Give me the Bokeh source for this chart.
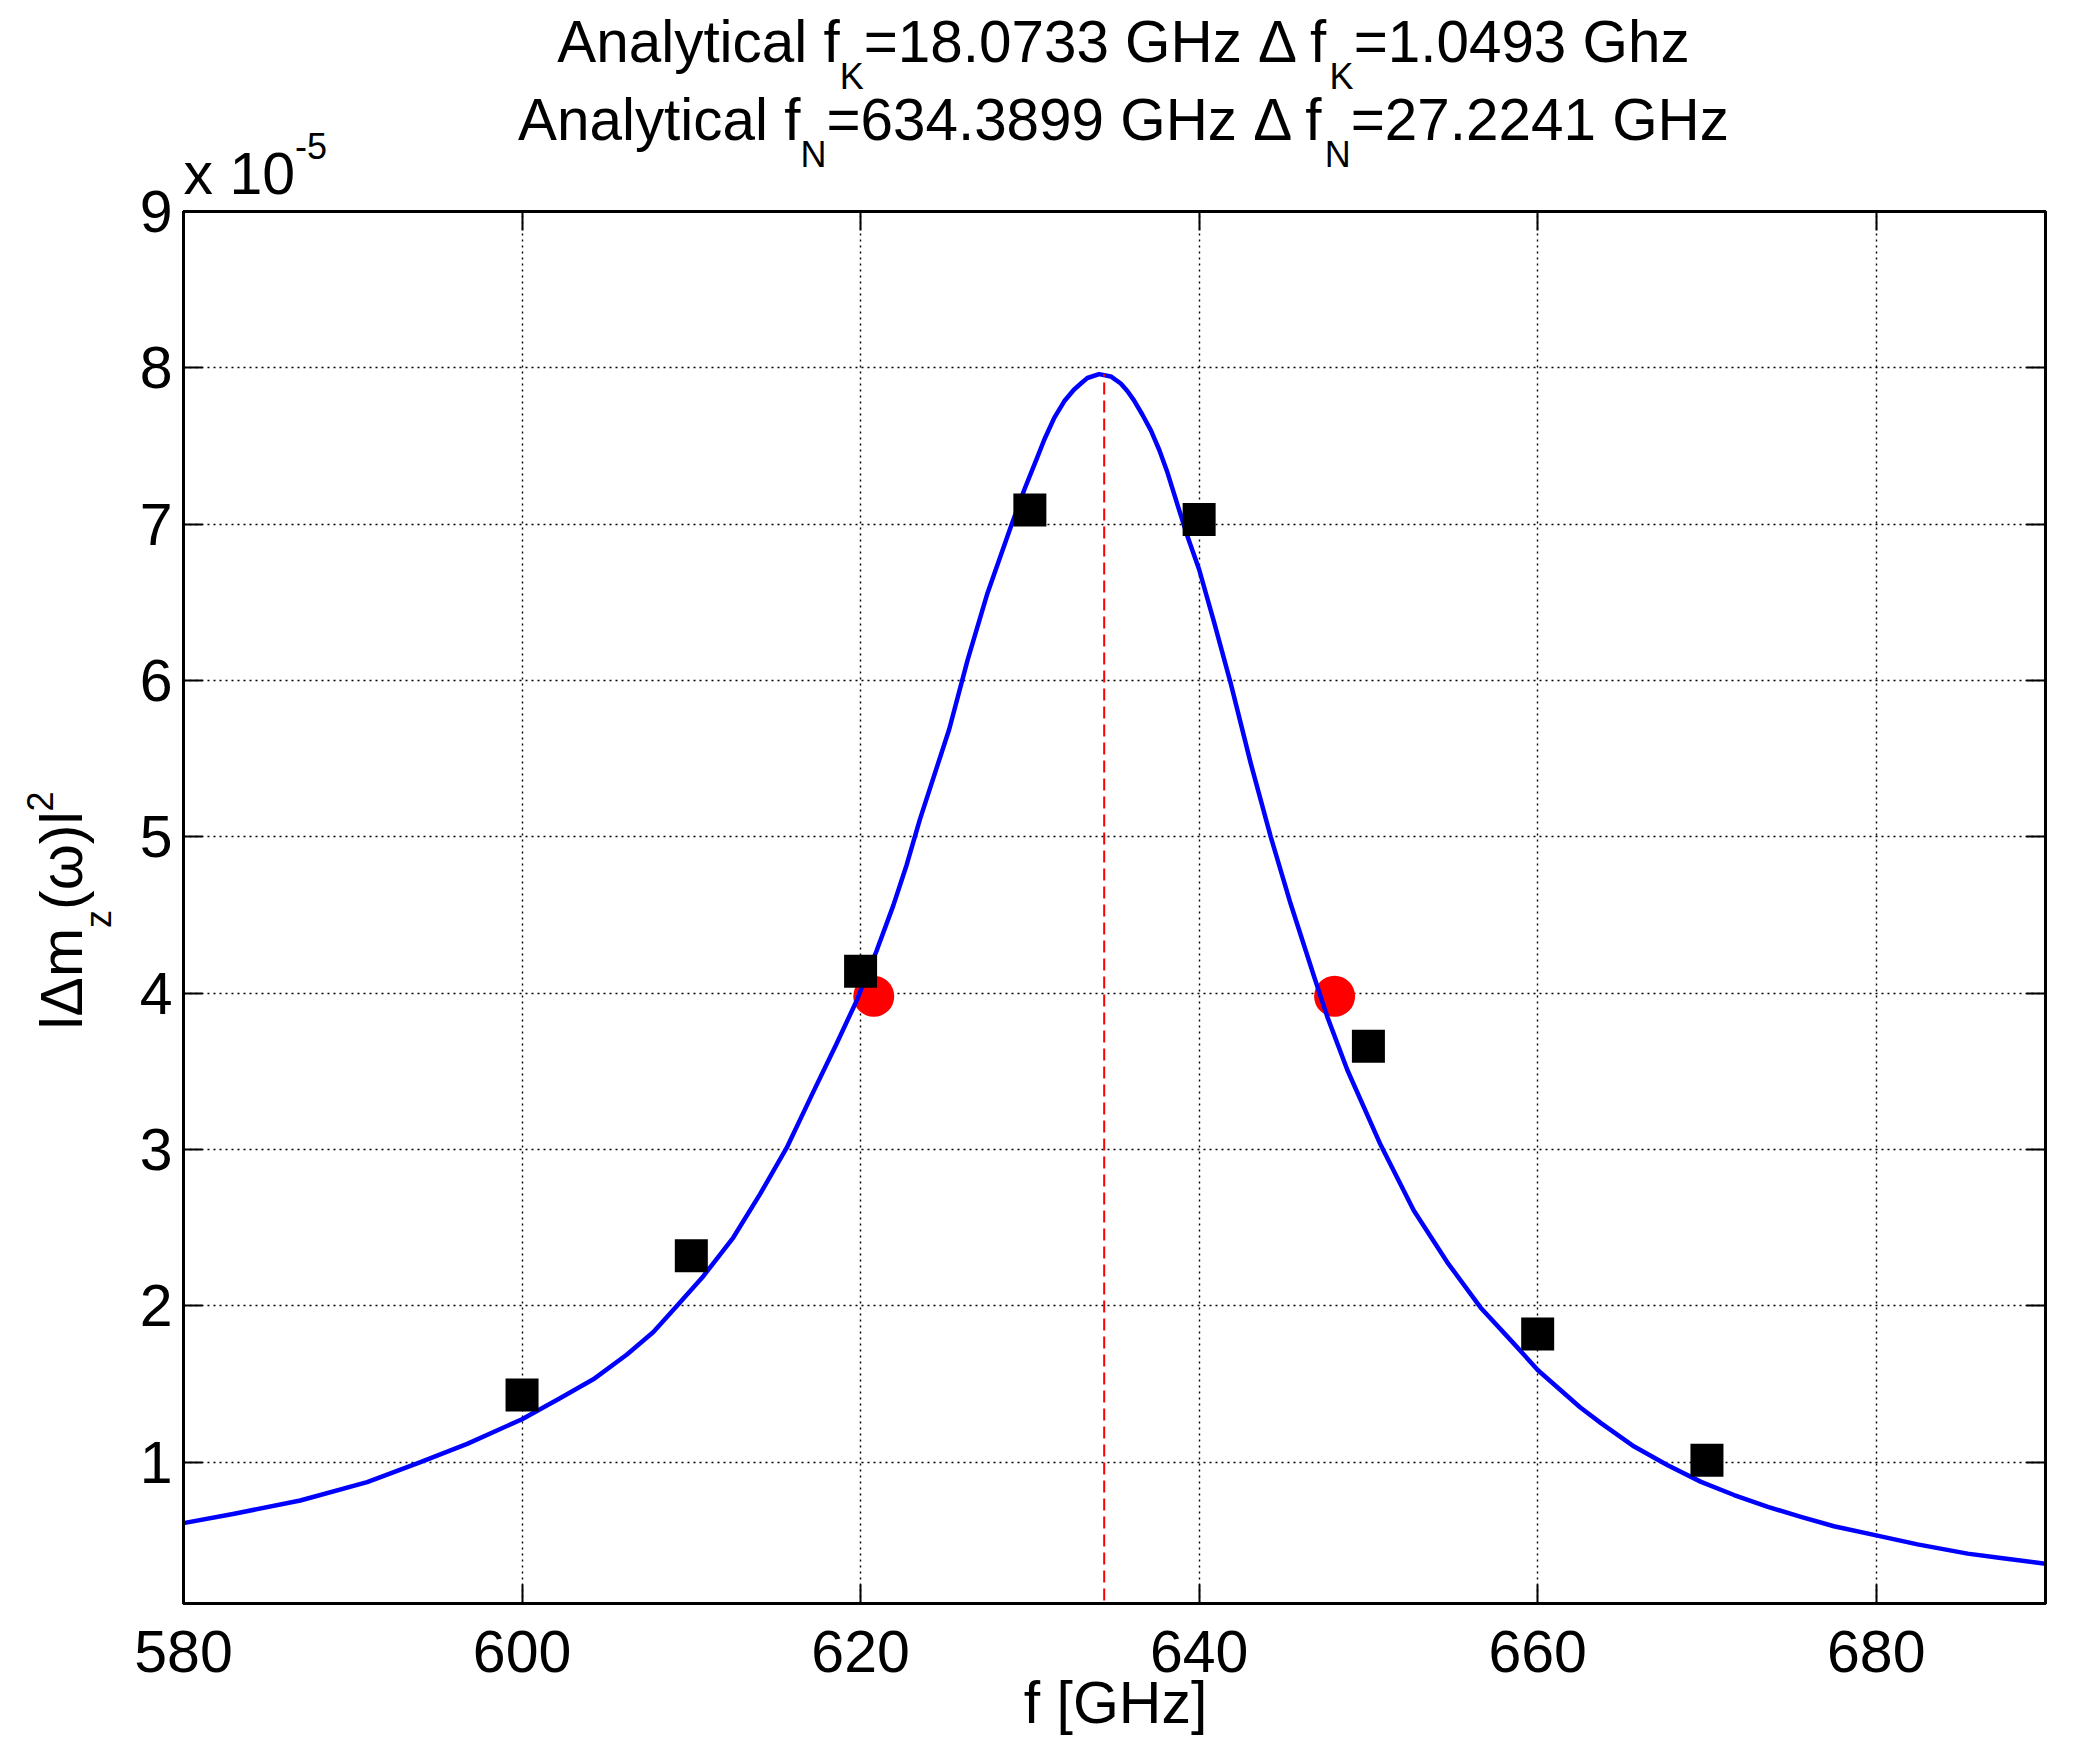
import math
from bokeh.plotting import figure
from bokeh.layouts import column
from bokeh.models import Label, LinearAxis, FixedTicker, Range1d
from bokeh.embed import file_html
from bokeh.resources import INLINE

# ---- data (y values in units of 1e-5) ----
curve_f = [580, 583, 586.9, 590.85, 594, 596.76, 600, 602.24, 604.21, 606.18,
           607.76, 609.13, 610.71, 612.48, 614.06, 615.63, 617.2, 618.58, 619.76, 620.94,
           621.93, 622.72, 623.5, 625.24, 626.32, 627.5, 628.88, 629.67, 630.45, 630.85,
           631.44, 632.03, 632.6, 633.1, 633.4, 634.09, 634.78, 635.37, 635.77, 636.16,
           636.65, 637.15, 637.64, 638.13, 638.82, 639.35, 640, 640.89, 641.87, 643.05,
           644.23, 645.41, 646.78, 647.57, 648.75, 650.72, 652.68, 654.65, 656.62, 658.58,
           660, 662.52, 663.74, 665.7, 667.68, 669.65, 671.6, 673.6, 675.55, 677.5,
           680, 682.44, 685.4, 687.36, 690]
curve_v = [0.61, 0.67, 0.755, 0.872, 1.0, 1.117, 1.275, 1.409, 1.53, 1.687,
           1.833, 1.997, 2.19, 2.437, 2.715, 3.01, 3.367, 3.677, 3.95, 4.27,
           4.56, 4.82, 5.11, 5.69, 6.13, 6.56, 6.985, 7.22, 7.43, 7.54,
           7.68, 7.786, 7.86, 7.908, 7.935, 7.96, 7.945, 7.90, 7.85, 7.79,
           7.70, 7.60, 7.476, 7.33, 7.09, 6.91, 6.71, 6.37, 5.98, 5.47,
           5.0, 4.57, 4.11, 3.85, 3.51, 3.03, 2.61, 2.28, 1.99, 1.76,
           1.59, 1.35, 1.25, 1.10, 0.98, 0.874, 0.79, 0.714, 0.65, 0.59,
           0.532, 0.474, 0.415, 0.387, 0.35]
sim_f = [600, 610, 620, 630, 640, 650, 660, 670]
sim_v = [1.43, 2.32, 4.14, 7.09, 7.03, 3.66, 1.82, 1.013]
half_f = [620.778, 648.002]
half_v = [3.98, 3.98]
fN = 634.3899
peak_v = 7.96
x_ticks = [580, 600, 620, 640, 660, 680]
y_ticks = [1, 2, 3, 4, 5, 6, 7, 8, 9]
x_lim = (580, 690)
y_lim = (0.096, 9)

title1 = [("Analytical f", 0), ("K", 1), ("=18.0733 GHz \u0394 f", 0), ("K", 1), ("=1.0493 Ghz", 0)]
title2 = [("Analytical f", 0), ("N", 1), ("=634.3899 GHz \u0394 f", 0), ("N", 1), ("=27.2241 GHz", 0)]
ylab = [("l\u0394m", 0), ("z", 1), ("(\u03c9)l", 0), ("2", 2)]
xlab = "f [GHz]"

FONT = "Liberation Sans"
FS = 59          # tick labels, axis labels
TFS = 58.4       # title main text
SS = 36          # sub/superscripts
BASE_FIX = 0.347  # label baseline correction, in em

MET = {' ': 278, 'A': 667, 'n': 556, 'a': 556, 'l': 222, 'y': 500, 't': 278, 'i': 222,
       'c': 500, 'f': 278, 'K': 667, 'N': 722, '=': 584, '.': 278, 'G': 778, 'H': 722,
       'z': 500, 'h': 556, '\u0394': 668, 'x': 500, '-': 333, 'm': 833, '(': 333, ')': 333,
       '\u03c9': 781, '[': 278, ']': 278}
for d in "0123456789":
    MET[d] = 556


def tw(s, size):
    return sum(MET.get(c, 556) for c in s) * size / 1000.0


PW, PH = 2065, 1738
BL, BR, BT, BB = 183, 20, 211, 135

p = figure(width=PW, height=PH, x_range=Range1d(*x_lim), y_range=Range1d(*y_lim),
           output_backend="svg", toolbar_location=None, frame_align=False,
           min_border_left=BL, min_border_right=BR, min_border_top=BT, min_border_bottom=BB)
p.title.visible = False
p.background_fill_color = "white"
p.border_fill_color = "white"
p.outline_line_color = "black"
p.outline_line_width = 3

for g, t in ((p.xgrid, x_ticks), (p.ygrid, y_ticks)):
    g.ticker = FixedTicker(ticks=t)
    g.grid_line_color = "black"
    g.grid_line_width = 1.4
    g.grid_line_dash = "2 4"


def style_axis(ax, ticks, show_labels, standoff):
    ax.ticker = FixedTicker(ticks=ticks)
    ax.major_tick_in = 19
    ax.major_tick_out = 0
    ax.major_tick_line_width = 2
    ax.major_tick_line_color = "black"
    ax.minor_tick_line_color = None
    ax.axis_line_width = 3
    ax.axis_line_color = "black"
    ax.major_label_text_font = FONT
    if show_labels:
        ax.major_label_text_font_size = f"{FS}px"
        ax.major_label_text_color = "black"
        ax.major_label_standoff = standoff
    else:
        ax.major_label_text_font_size = "0px"
        ax.major_label_text_color = None
        ax.major_label_standoff = 0


style_axis(p.xaxis[0], x_ticks, True, 27)
style_axis(p.yaxis[0], y_ticks, True, 11)
top_ax = LinearAxis()
right_ax = LinearAxis()
style_axis(top_ax, x_ticks, False, 0)
style_axis(right_ax, y_ticks, False, 0)
p.add_layout(top_ax, "above")
p.add_layout(right_ax, "right")

p.scatter(half_f, half_v, marker="circle", size=41, fill_color="red", line_color="red", line_width=0)
p.line(curve_f, curve_v, line_color="#0000ff", line_width=4.5, line_join="round")
p.line([fN, fN], [0, peak_v], line_color="red", line_width=2, line_dash="12 6")
p.scatter(sim_f, sim_v, marker="square", size=33, fill_color="black", line_color="black", line_width=0)

# transparent text layer laid over the whole plot (page pixel coordinates)
ov = figure(width=PW, height=PH, x_range=Range1d(0, PW), y_range=Range1d(0, PH),
            output_backend="svg", toolbar_location=None, frame_align=False, min_border=0,
            x_axis_type=None, y_axis_type=None)
ov.title.visible = False
ov.outline_line_color = None
ov.background_fill_color = None
ov.border_fill_color = None
ov.margin = (-PH, 0, 0, 0)


def lab(x, y_page, text, size, align="left"):
    ov.add_layout(Label(x=x, y=PH - y_page + BASE_FIX * size, text=text, text_font=FONT,
                        text_font_size=f"{size}px", text_color="black", text_align=align,
                        text_baseline="alphabetic"))


def vlab(x_page, y, text, size):
    ov.add_layout(Label(x=x_page - BASE_FIX * size, y=y, text=text, text_font=FONT,
                        text_font_size=f"{size}px", text_color="black", text_align="left",
                        text_baseline="alphabetic", angle=math.pi / 2))


CX = 1123
for pieces, base, sub in ((title1, 61, 88), (title2, 139, 166)):
    total = sum(tw(t, SS if s else TFS) for t, s in pieces)
    x = CX - total / 2
    for t, s in pieces:
        size = SS if s else TFS
        lab(x, sub if s else base, t, size)
        x += tw(t, size)

lab(BL, 194, "x 10", FS)
lab(BL + tw("x 10", FS), 158, "-5", SS)
lab(1115, 1723, xlab, FS, align="center")

total = sum(tw(t, SS if s else FS) for t, s in ylab)
y = (PH - 910) - total / 2
for t, s in ylab:
    size = SS if s else FS
    vlab({0: 82, 1: 110, 2: 52}[s], y, t, size)
    y += tw(t, size)

layout = column(p, ov, spacing=0)
open("out.html", "w").write(file_html(layout, INLINE))
